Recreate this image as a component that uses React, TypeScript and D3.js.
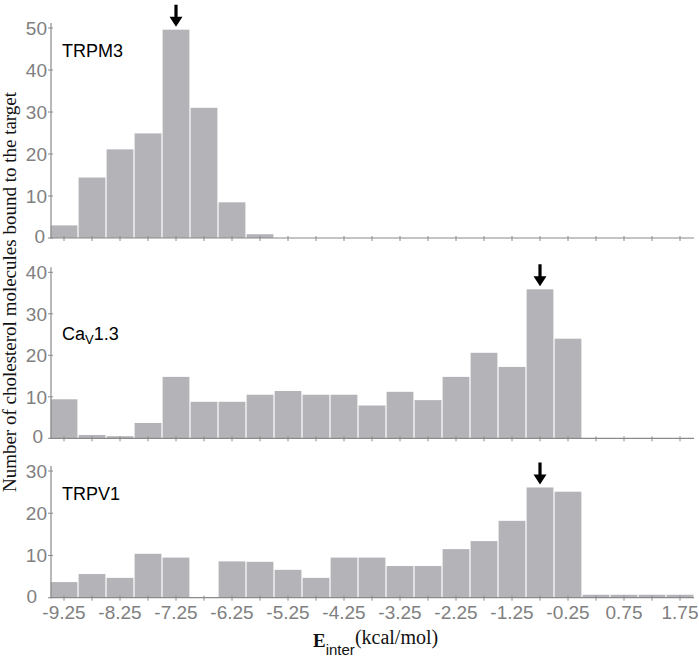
import { scaleLinear } from "d3";
import type { ReactElement } from "react";

// bin centres (kcal/mol), bin width 0.5
const binCenters = [
  -9.25, -8.75, -8.25, -7.75, -7.25, -6.75, -6.25, -5.75, -5.25, -4.75, -4.25, -3.75,
  -3.25, -2.75, -2.25, -1.75, -1.25, -0.75, -0.25, 0.25, 0.75, 1.25, 1.75,
];
const tickLabels = ["-9.25", "-8.25", "-7.25", "-6.25", "-5.25", "-4.25", "-3.25", "-2.25", "-1.25", "-0.25", "0.75", "1.75"];

const trpm3 = [3, 14.4, 21.1, 24.9, 49.6, 31, 8.5, 0.9, 0, 0, 0, 0, 0, 0, 0, 0, 0, 0, 0, 0, 0, 0, 0];
const cav13 = [9.4, 0.8, 0.5, 3.7, 14.8, 8.8, 8.8, 10.5, 11.4, 10.5, 10.5, 7.9, 11.2, 9.2, 14.8, 20.6, 17.2, 35.9, 24.0, 0, 0, 0, 0];
const trpv1 = [3.7, 5.6, 4.7, 10.4, 9.5, 0, 8.6, 8.5, 6.6, 4.7, 9.5, 9.5, 7.5, 7.5, 11.5, 13.4, 18.2, 26.1, 25.1, 0.7, 0.7, 0.7, 0.7];

const trpm3Ticks = [0, 10, 20, 30, 40, 50];
const cav13Ticks = [0, 10, 20, 30, 40];
const trpv1Ticks = [0, 10, 20, 30];

const BAR = "#b4b3b8";
const AXIS = "#8a8a8a";
const TICK_TEXT = "#808080";
const SANS = "Liberation Sans, Arial, sans-serif";
const SERIF = "Liberation Serif, Times New Roman, serif";

const width = 699;
const height = 660;
const binWidth = 0.5;

const xScale = scaleLinear().domain([-9.5, 2.0]).range([50, 694]);

type PanelProps = Readonly<{
  values: ReadonlyArray<number>;
  ticks: ReadonlyArray<number>;
  yRange: readonly [number, number];
  arrowBin: number;
  showLabels: boolean;
  zeroShift: number;
  label: ReactElement;
}>;

const Panel = (props: PanelProps): ReactElement => {
  const { values, ticks, yRange, arrowBin, showLabels, zeroShift, label } = props;
  const yMax = ticks[ticks.length - 1];
  const yScale = scaleLinear().domain([0, yMax]).range(yRange);
  const y0 = yScale(0);
  const [xMin, xMax] = xScale.range();

  const arrowX = xScale(binCenters[arrowBin]);
  const arrowTip = yScale(values[arrowBin]) - 3;

  return (
    <g>
      {values.map((v, i) => {
        if (v <= 0) return null;
        const x0 = xScale(binCenters[i] - binWidth / 2);
        const x1 = xScale(binCenters[i] + binWidth / 2);
        const y = yScale(v);
        return (
          <rect
            key={`bar-${i}`}
            x={x0 + 0.6}
            y={y}
            width={x1 - x0 - 1.2}
            height={y0 - y}
            fill={BAR}
          />
        );
      })}

      <line x1={xMin} x2={xMax} y1={y0} y2={y0} stroke={AXIS} strokeWidth={1.2} />
      {binCenters.map((c) => (
        <line key={`xt-${c}`} x1={xScale(c)} x2={xScale(c)} y1={y0 - 2} y2={y0 + 3} stroke={AXIS} strokeWidth={1} />
      ))}
      {showLabels &&
        tickLabels.map((t) => (
          <text
            key={`xl-${t}`}
            x={xScale(Number(t))}
            y={y0 + 21}
            textAnchor="middle"
            fill={TICK_TEXT}
            fontSize={19}
            fontFamily={SANS}
          >
            {t}
          </text>
        ))}

      <line x1={xMin + 1} x2={xMin + 1} y1={y0} y2={yScale(yMax) - 5} stroke={AXIS} strokeWidth={1.2} />
      {ticks.map((t) => (
        <g key={`yt-${t}`}>
          <line x1={xMin - 2} x2={xMin + 3} y1={yScale(t)} y2={yScale(t)} stroke={AXIS} strokeWidth={1} />
          <text
            x={xMin - 3 - (t === 0 ? zeroShift : 0)}
            y={yScale(t) - (t === 0 ? 2 : 0)}
            dy="0.36em"
            textAnchor="end"
            fill={TICK_TEXT}
            fontSize={19}
            fontFamily={SANS}
          >
            {t}
          </text>
        </g>
      ))}

      <path
        d={`M${arrowX - 1.6},${arrowTip - 22} L${arrowX + 1.6},${arrowTip - 22} L${arrowX + 1.6},${arrowTip - 10} L${arrowX + 6.5},${arrowTip - 10} L${arrowX},${arrowTip} L${arrowX - 6.5},${arrowTip - 10} L${arrowX - 1.6},${arrowTip - 10} Z`}
        fill="#000"
      />

      {label}
    </g>
  );
};

export default function App(): ReactElement {
  return (
    <svg
      width={width}
      height={height}
      viewBox={`0 0 ${width} ${height}`}
      style={{ position: "absolute", left: 0, top: 0, background: "#fff" }}
    >
      <rect x={0} y={0} width={width} height={height} fill="#fff" />

      <Panel
        values={trpm3}
        ticks={trpm3Ticks}
        yRange={[238, 28]}
        arrowBin={4}
        showLabels={false}
        zeroShift={2}
        label={
          <text x={62} y={57} fontSize={18} fontFamily={SANS} fill="#000">
            TRPM3
          </text>
        }
      />
      <Panel
        values={cav13}
        ticks={cav13Ticks}
        yRange={[438.3, 272.3]}
        arrowBin={17}
        showLabels={false}
        zeroShift={4}
        label={
          <text x={62} y={340} fontSize={18} fontFamily={SANS} fill="#000">
            Ca
            <tspan fontSize={13} dy={4}>
              V
            </tspan>
            <tspan dy={-4}>1.3</tspan>
          </text>
        }
      />
      <Panel
        values={trpv1}
        ticks={trpv1Ticks}
        yRange={[597.7, 471]}
        arrowBin={17}
        showLabels={true}
        zeroShift={10}
        label={
          <text x={62} y={500} fontSize={18} fontFamily={SANS} fill="#000">
            TRPV1
          </text>
        }
      />

      <text
        transform="translate(16,292) rotate(-90)"
        textAnchor="middle"
        fontSize={19}
        fontFamily={SERIF}
        fill="#111"
      >
        Number of cholesterol molecules bound to the target
      </text>

      <text x={313} y={647} fontFamily={SERIF} fill="#111">
        <tspan fontSize={19} fontWeight="bold">
          E
        </tspan>
        <tspan fontSize={15} fontFamily={SANS} dy={8}>
          inter
        </tspan>
        <tspan fontSize={20} dy={-11}>
          (kcal/mol)
        </tspan>
      </text>
    </svg>
  );
}
